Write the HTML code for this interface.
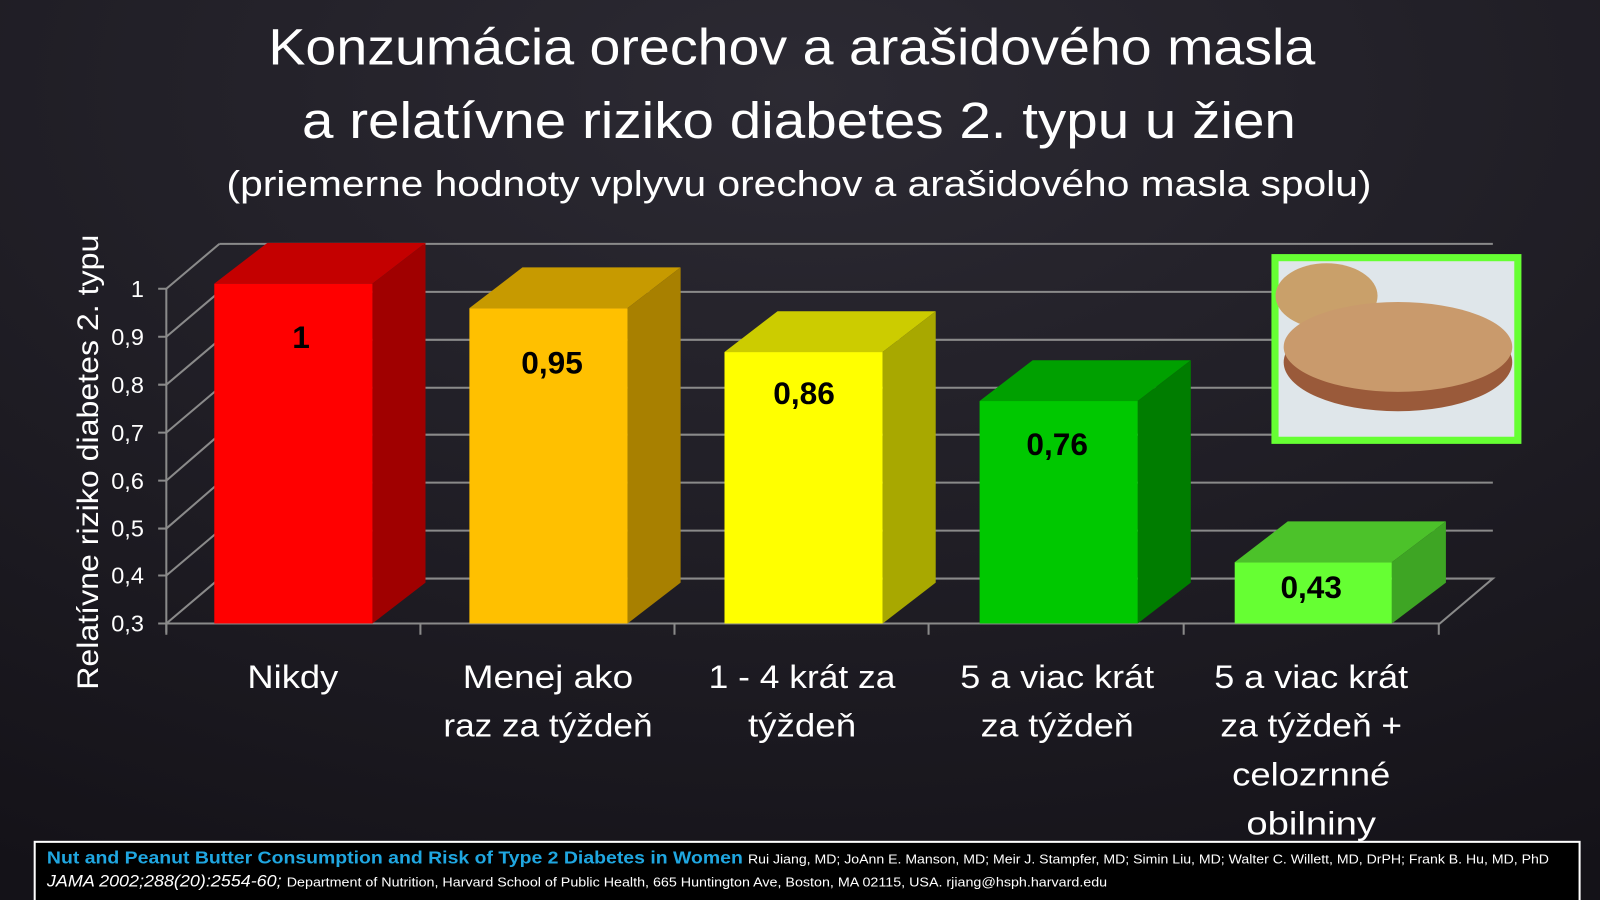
<!DOCTYPE html>
<html><head><meta charset="utf-8"><style>
html,body{margin:0;padding:0;width:1600px;height:900px;overflow:hidden;background:#1b1920}
svg{display:block}
text{font-family:"Liberation Sans",sans-serif}
</style></head><body>
<svg width="1600" height="900" viewBox="0 0 1568 882" preserveAspectRatio="none">
<defs>
<radialGradient id="bg" cx="0.5" cy="0.1" r="1">
<stop offset="0" stop-color="#2c2a33"/><stop offset="1" stop-color="#141218"/>
</radialGradient>
</defs>
<rect width="1568" height="882" fill="url(#bg)"/>
<g fill="#fff" text-anchor="middle">
<text x="776" y="63" font-size="50" textLength="1026" lengthAdjust="spacingAndGlyphs">Konzumácia orechov a arašidového masla</text>
<text x="783" y="135" font-size="50" textLength="974" lengthAdjust="spacingAndGlyphs">a relatívne riziko diabetes 2. typu u žien</text>
<text x="783" y="192" font-size="35" textLength="1122" lengthAdjust="spacingAndGlyphs">(priemerne hodnoty vplyvu orechov a arašidového masla spolu)</text>
</g>
<g stroke="#8a8a8a" stroke-width="2" fill="none">
<path d="M215 239H1463M215 286H1463M215 333H1463M215 380H1463M215 426H1463M215 473H1463M215 520H1463"/>
<path d="M215 567H1463L1411 611H163"/>
<path d="M163 283L215 239M163 330L215 286M163 377L215 333M163 424L215 380M163 471L215 426M163 518L215 473M163 564L215 520M163 611L215 567"/>
<path d="M163 283V620M155 283H163M155 330H163M155 377H163M155 424H163M155 471H163M155 518H163M155 564H163M155 611H163"/>
<path d="M163 611V622M412 611V622M661 611V622M910 611V622M1160 611V622M1410 611V622"/>
</g>
<g fill="#fff" font-size="23" text-anchor="end">
<text x="141" y="291">1</text><text x="141" y="338">0,9</text><text x="141" y="385">0,8</text><text x="141" y="432">0,7</text><text x="141" y="479">0,6</text><text x="141" y="526">0,5</text><text x="141" y="572">0,4</text><text x="141" y="619">0,3</text>
</g>
<text transform="translate(96 453) rotate(-90)" fill="#fff" font-size="29" text-anchor="middle" textLength="446" lengthAdjust="spacingAndGlyphs">Relatívne riziko diabetes 2. typu</text>
<g>
<polygon points="210,278 262,238 417,238 365,278" fill="#c40000"/><polygon points="365,278 417,238 417,571 365,611" fill="#a00000"/><rect x="210" y="278" width="155" height="333" fill="#ff0000"/>
<polygon points="460,302 512,262 667,262 615,302" fill="#c79a00"/><polygon points="615,302 667,262 667,571 615,611" fill="#a88000"/><rect x="460" y="302" width="155" height="309" fill="#ffc000"/>
<polygon points="710,345 762,305 917,305 865,345" fill="#cccc00"/><polygon points="865,345 917,305 917,571 865,611" fill="#a8a800"/><rect x="710" y="345" width="155" height="266" fill="#ffff00"/>
<polygon points="960,393 1012,353 1167,353 1115,393" fill="#00a000"/><polygon points="1115,393 1167,353 1167,571 1115,611" fill="#007d00"/><rect x="960" y="393" width="155" height="218" fill="#00c800"/>
<polygon points="1210,551 1262,511 1417,511 1364,551" fill="#4cc22a"/><polygon points="1364,551 1417,511 1417,571 1364,611" fill="#3ea524"/><rect x="1210" y="551" width="154" height="60" fill="#66ff33"/>
</g>
<g fill="#000" font-size="31" font-weight="bold" text-anchor="middle">
<text x="295" y="341">1</text><text x="541" y="366">0,95</text><text x="788" y="396">0,86</text><text x="1036" y="446">0,76</text><text x="1285" y="586">0,43</text>
</g>
<g fill="#fff" font-size="32" text-anchor="middle" lengthAdjust="spacingAndGlyphs">
<text x="287" y="674" textLength="89" lengthAdjust="spacingAndGlyphs">Nikdy</text>
<text x="537" y="674" textLength="167" lengthAdjust="spacingAndGlyphs">Menej ako</text><text x="537" y="722" textLength="205" lengthAdjust="spacingAndGlyphs">raz za týždeň</text>
<text x="786" y="674" textLength="183" lengthAdjust="spacingAndGlyphs">1 - 4 krát za</text><text x="786" y="722" textLength="106" lengthAdjust="spacingAndGlyphs">týždeň</text>
<text x="1036" y="674" textLength="190" lengthAdjust="spacingAndGlyphs">5 a viac krát</text><text x="1036" y="722" textLength="150" lengthAdjust="spacingAndGlyphs">za týždeň</text>
<text x="1285" y="674" textLength="190" lengthAdjust="spacingAndGlyphs">5 a viac krát</text><text x="1285" y="722" textLength="178" lengthAdjust="spacingAndGlyphs">za týždeň +</text><text x="1285" y="770" textLength="155" lengthAdjust="spacingAndGlyphs">celozrnné</text><text x="1285" y="818" textLength="127" lengthAdjust="spacingAndGlyphs">obilniny</text>
</g>
<rect x="1246" y="249" width="245" height="186" fill="#66ff33"/>
<rect x="1253" y="256" width="231" height="172" fill="#dfe6ea"/>
<ellipse cx="1300" cy="290" rx="50" ry="32" fill="#c9a06a"/>
<ellipse cx="1370" cy="355" rx="112" ry="48" fill="#9a5a3a"/>
<ellipse cx="1370" cy="340" rx="112" ry="44" fill="#c99a6c"/>
<rect x="34" y="825" width="1514" height="60" fill="#000" stroke="#fff" stroke-width="2"/>
<text x="46" y="846" font-size="17" font-weight="bold" fill="#1fa6e0"><tspan textLength="682" lengthAdjust="spacingAndGlyphs">Nut and Peanut Butter Consumption and Risk of Type 2 Diabetes in Women</tspan><tspan x="733" font-size="13" font-weight="normal" fill="#fff" textLength="785" lengthAdjust="spacingAndGlyphs">Rui Jiang, MD;  JoAnn E. Manson, MD; Meir J. Stampfer, MD; Simin Liu, MD; Walter C. Willett, MD, DrPH; Frank B. Hu, MD, PhD</tspan></text>
<text x="46" y="869" font-size="16" font-style="italic" fill="#fff"><tspan textLength="230" lengthAdjust="spacingAndGlyphs">JAMA 2002;288(20):2554-60;</tspan><tspan x="281" font-size="13" font-style="normal" textLength="804" lengthAdjust="spacingAndGlyphs">Department of Nutrition, Harvard School of Public Health, 665 Huntington Ave, Boston, MA 02115, USA. rjiang@hsph.harvard.edu</tspan></text>
</svg>
</body></html>
